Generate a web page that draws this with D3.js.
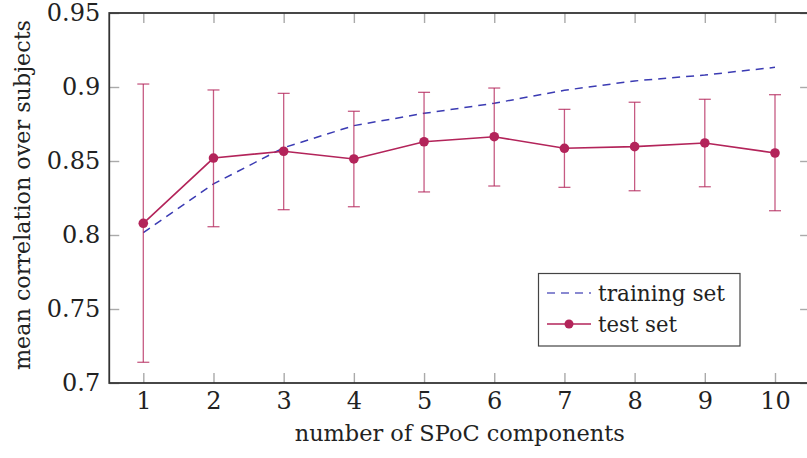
<!DOCTYPE html>
<html><head><meta charset="utf-8">
<script src="https://cdn.jsdelivr.net/npm/d3@7"></script>
<style>
body{margin:0;background:#fff;}
svg text{fill:#222;}
</style></head>
<body><svg id="c" width="807" height="458"></svg>
<script>
const components = [1,2,3,4,5,6,7,8,9,10];
const trainingSet = [0.8016,0.8345,0.8590,0.8739,0.8822,0.8890,0.8978,0.9041,0.9081,0.9133];
const testSet     = [0.8079,0.8520,0.8566,0.8514,0.8630,0.8664,0.8586,0.8597,0.8622,0.8554];
const testLow     = [0.7140,0.8056,0.8171,0.8191,0.8291,0.8331,0.8322,0.8299,0.8326,0.8164];
const testHigh    = [0.9020,0.8980,0.8957,0.8836,0.8964,0.8993,0.8849,0.8897,0.8917,0.8948];
const xTicks = [1,2,3,4,5,6,7,8,9,10];
const yTicks = [0.7,0.75,0.8,0.85,0.9,0.95];
const yTickLabels = ["0.7","0.75","0.8","0.85","0.9","0.95"];
const xLabel = "number of SPoC components";
const yLabel = "mean correlation over subjects";
const legendLabels = ["training set","test set"];

const FONT = "'DejaVu Serif','Liberation Serif',serif";
const svg = d3.select("#c");
const x = d3.scaleLinear().domain([1,10]).range([143.3,775]);
const y = d3.scaleLinear().domain([0.7,0.95]).range([383,13]);
const x0 = x(0.515), x1 = x(10.5), y0 = y(0.7), y1 = y(0.95);
const testColor = "#b3245a", trainColor = "#3b3bb3";

// ticks (inside, mirrored)
const gx = svg.append("g").attr("transform",`translate(0,${y0})`)
  .call(d3.axisBottom(x).tickValues(xTicks).tickSize(-10).tickPadding(9).tickFormat(d3.format("d")));
const gxTop = svg.append("g").attr("transform",`translate(0,${y1})`)
  .call(d3.axisTop(x).tickValues(xTicks).tickSize(-10).tickFormat(""));
const gy = svg.append("g").attr("transform",`translate(${x0},0)`)
  .call(d3.axisLeft(y).tickValues(yTicks).tickSize(-10).tickPadding(9).tickFormat((d,i)=>yTickLabels[i]));
const gyR = svg.append("g").attr("transform",`translate(${x1},0)`)
  .call(d3.axisRight(y).tickValues(yTicks).tickSize(-10).tickFormat(""));
[gx,gxTop,gy,gyR].forEach(g=>{
  g.attr("font-family",FONT);
  g.select(".domain").remove();
  g.selectAll(".tick line").attr("stroke","#aaa").attr("stroke-width",1.4);
  g.selectAll(".tick text").attr("font-size",24).attr("fill","#222").attr("font-family",FONT);
});

// frame
svg.append("rect").attr("x",x0).attr("y",y1).attr("width",x1-x0).attr("height",y0-y1)
  .attr("fill","none").attr("stroke","#333").attr("stroke-width",1.8);

// training line
svg.append("path").datum(components.map((c,i)=>[c,trainingSet[i]]))
  .attr("d",d3.line().x(d=>x(d[0])).y(d=>y(d[1])))
  .attr("fill","none").attr("stroke",trainColor).attr("stroke-width",1.5).attr("stroke-dasharray","8,6");

// error bars
const eb = svg.append("g").attr("stroke",testColor).attr("stroke-opacity",0.75).attr("stroke-width",1.3);
components.forEach((c,i)=>{
  const cx = x(c);
  eb.append("line").attr("x1",cx).attr("x2",cx).attr("y1",y(testLow[i])).attr("y2",y(testHigh[i]));
  eb.append("line").attr("x1",cx-6).attr("x2",cx+6).attr("y1",y(testLow[i])).attr("y2",y(testLow[i]));
  eb.append("line").attr("x1",cx-6).attr("x2",cx+6).attr("y1",y(testHigh[i])).attr("y2",y(testHigh[i]));
});

// test line
svg.append("path").datum(components.map((c,i)=>[c,testSet[i]]))
  .attr("d",d3.line().x(d=>x(d[0])).y(d=>y(d[1])))
  .attr("fill","none").attr("stroke",testColor).attr("stroke-width",1.6);
svg.append("g").selectAll("circle").data(components).join("circle")
  .attr("cx",d=>x(d)).attr("cy",(d,i)=>y(testSet[i])).attr("r",4.8).attr("fill",testColor);

// axis labels
svg.append("text").attr("x",(x0+x1)/2).attr("y",441).attr("text-anchor","middle").attr("font-family",FONT)
  .attr("font-size",23).attr("textLength",330).attr("lengthAdjust","spacingAndGlyphs").text(xLabel);
svg.append("text").attr("transform",`translate(30,${(y0+y1)/2-3}) rotate(-90)`).attr("text-anchor","middle").attr("font-family",FONT)
  .attr("font-size",23).attr("textLength",350).attr("lengthAdjust","spacingAndGlyphs").text(yLabel);

// legend
const lg = svg.append("g").attr("font-family",FONT);
lg.append("rect").attr("x",538.5).attr("y",273.5).attr("width",201.5).attr("height",72.5)
  .attr("fill","#fff").attr("stroke","#444").attr("stroke-width",1.2);
lg.append("line").attr("x1",547).attr("x2",591).attr("y1",293).attr("y2",293)
  .attr("stroke",trainColor).attr("stroke-opacity",0.8).attr("stroke-width",1.3).attr("stroke-dasharray","8,6");
lg.append("line").attr("x1",547).attr("x2",591).attr("y1",324).attr("y2",324)
  .attr("stroke",testColor).attr("stroke-width",1.6);
lg.append("circle").attr("cx",569).attr("cy",324).attr("r",4.5).attr("fill",testColor);
lg.append("text").attr("x",598).attr("y",301).attr("font-size",23)
  .attr("textLength",127).attr("lengthAdjust","spacingAndGlyphs").text(legendLabels[0]);
lg.append("text").attr("x",598).attr("y",332).attr("font-size",23)
  .attr("textLength",79).attr("lengthAdjust","spacingAndGlyphs").text(legendLabels[1]);
</script></body></html>
